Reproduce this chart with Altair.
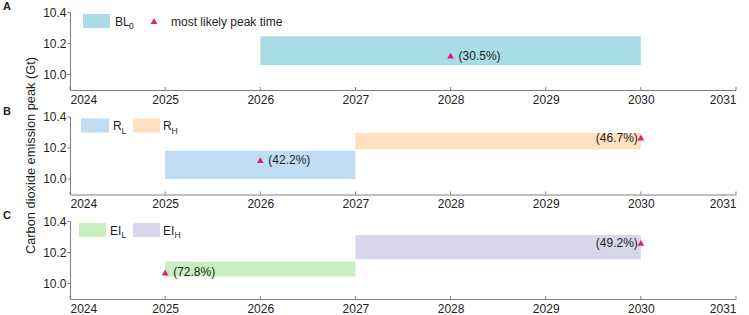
import altair as alt
import pandas as pd

# ---- data ----
bar_panel = ["A", "B", "B", "C", "C"]
bar_series = ["BL0", "RL", "RH", "EIL", "EIH"]
bar_start = [2026, 2025, 2027, 2025, 2027]
bar_end = [2030, 2027, 2030, 2027, 2030]
bar_low = [10.06, 10.00, 10.19, 10.045, 10.155]
bar_high = [10.245, 10.18, 10.295, 10.14, 10.31]

peak_panel = ["A", "B", "B", "C", "C"]
peak_year = [2028, 2026, 2030, 2025, 2030]
peak_value = [10.12, 10.12, 10.265, 10.07, 10.26]
peak_label = ["(30.5%)", "(42.2%)", "(46.7%)", "(72.8%)", "(49.2%)"]
peak_side = ["right", "right", "left", "right", "left"]

x_ticks = [2024, 2025, 2026, 2027, 2028, 2029, 2030, 2031]
y_ticks = [10.0, 10.2, 10.4]

series_colors = ["#a8dde6", "#bfddf5", "#fedfc0", "#c9efc1", "#d7d6ea"]
peak_color = "#e8177d"
FONT = "Liberation Sans"
TXT = "#1e1e1e"
AXC = "#808080"

bars = pd.DataFrame({"panel": bar_panel, "series": bar_series, "start": bar_start,
                     "end": bar_end, "low": bar_low, "high": bar_high})
peaks = pd.DataFrame({"panel": peak_panel, "year": peak_year, "value": peak_value,
                      "label": peak_label, "side": peak_side})
ticks_df = pd.DataFrame({"tick": x_ticks})

W, H = 666, 78

xscale = alt.Scale(domain=[2024, 2031], nice=False, zero=False)
yscale = alt.Scale(domain=[9.9, 10.4], nice=False, zero=False)
xaxis = alt.Axis(values=x_ticks, format="d", title=None, ticks=False, labelPadding=4,
                 labelOverlap=False, tickCount=20)
yaxis = alt.Axis(values=y_ticks, format=".1f", title=None, tickSize=3, labelPadding=1,
                 labelOverlap=False, tickCount=10)
cscale = alt.Scale(domain=bar_series, range=series_colors)

one = pd.DataFrame({"k": [0]})


def lrect(x1, x2, color):
    return alt.Chart(one).mark_rect(color=color).encode(
        x=alt.value(x1), x2=alt.value(x2), y=alt.value(2), y2=alt.value(16))


def ltext(txt, x, y=9.5, size=12):
    return alt.Chart(one).mark_text(text=txt, align="left", baseline="middle",
                                    font=FONT, fontSize=size, color=TXT).encode(
        x=alt.value(x), y=alt.value(y))


def panel(p, legend_layers, extra=None):
    b = alt.Chart(bars).transform_filter(alt.datum.panel == p)
    pk = alt.Chart(peaks).transform_filter(alt.datum.panel == p)
    rect = b.mark_rect().encode(
        x=alt.X("start:Q", scale=xscale, axis=xaxis),
        x2="end:Q",
        y=alt.Y("low:Q", scale=yscale, axis=yaxis),
        y2="high:Q",
        color=alt.Color("series:N", scale=cscale, legend=None),
    )
    inticks = alt.Chart(ticks_df).mark_rule(color=AXC, strokeWidth=1).encode(
        x=alt.X("tick:Q", scale=xscale), y=alt.value(H - 3), y2=alt.value(H))
    tri = pk.mark_point(shape="triangle-up", filled=True, size=45, opacity=1,
                        color=peak_color).encode(x="year:Q", y="value:Q")
    lab_r = pk.transform_filter(alt.datum.side == "right").mark_text(
        align="left", baseline="middle", dx=8, font=FONT, fontSize=12, color=TXT
    ).encode(x="year:Q", y="value:Q", text="label:N")
    lab_l = pk.transform_filter(alt.datum.side == "left").mark_text(
        align="right", baseline="middle", dx=-3, font=FONT, fontSize=12, color=TXT
    ).encode(x="year:Q", y="value:Q", text="label:N")
    tag = alt.Chart(one).mark_text(text=p, align="left", baseline="middle", font=FONT,
                                   fontSize=11, fontWeight="bold", color=TXT).encode(
        x=alt.value(-67), y=alt.value(-5))
    layers = [rect, inticks, tri, lab_r, lab_l, tag] + legend_layers
    if extra is not None:
        layers.append(extra)
    return alt.layer(*layers).properties(width=W, height=H)


legA = [
    lrect(13, 40, series_colors[0]),
    ltext("BL", 45),
    ltext("0", 59, 14, 8.5),
    alt.Chart(one).mark_point(shape="triangle-up", filled=True, size=45, opacity=1,
                              color=peak_color).encode(x=alt.value(84), y=alt.value(9)),
    ltext("most likely peak time", 101),
]
legB = [
    lrect(11, 39, series_colors[1]),
    ltext("R", 43),
    ltext("L", 51.5, 14, 8.5),
    lrect(63, 90, series_colors[2]),
    ltext("R", 93),
    ltext("H", 101.5, 14, 8.5),
]
legC = [
    lrect(9, 36, series_colors[3]),
    ltext("EI", 40),
    ltext("L", 51.5, 14, 8.5),
    lrect(63, 90, series_colors[4]),
    ltext("EI", 93),
    ltext("H", 104.5, 14, 8.5),
]

ytitle = alt.Chart(one).mark_text(text="Carbon dioxide emission peak (Gt)", angle=270,
                                  align="center", baseline="middle", font=FONT,
                                  fontSize=12.8, color=TXT).encode(
    x=alt.value(-39), y=alt.value(H / 2))

chart = alt.vconcat(
    panel("A", legA),
    panel("B", legB, ytitle),
    panel("C", legC),
    spacing=26.5,
).properties(
    bounds="flush",
    padding={"left": 3, "top": 1, "right": 0, "bottom": 0},
).configure_view(stroke=None).configure_axis(
    grid=False, domainColor=AXC, tickColor=AXC, labelColor=TXT,
    labelFont=FONT, labelFontSize=12,
)

chart.save("out.html", embed_options={"renderer": "svg", "actions": False})
